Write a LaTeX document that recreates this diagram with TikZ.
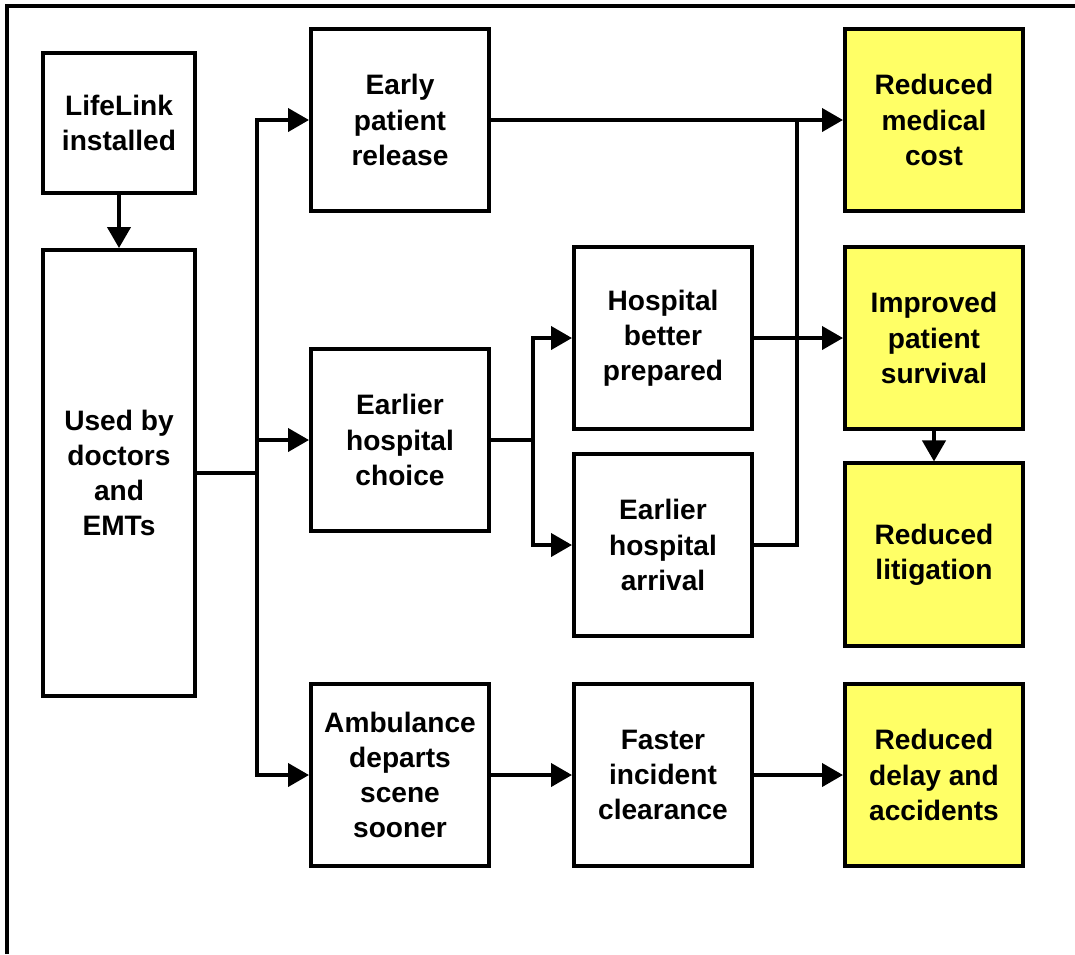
\documentclass[tikz,border=0pt]{standalone}
\usepackage{fontspec}
\setmainfont{Liberation Sans}
\usetikzlibrary{arrows.meta,positioning}
\usepackage{xcolor}
\definecolor{outcomeyellow}{HTML}{FFFF66}
\tikzset{
  chainbox/.style={
    rectangle,
    draw=black,
    line width=0.08cm,
    fill=white,
    align=center,
    inner sep=0pt,
    minimum width=3.56cm,
    minimum height=3.66cm,
    font=\fontsize{16}{20}\selectfont\bfseries
  },
  startbox/.style={chainbox, minimum width=3.04cm, minimum height=2.8cm},
  usebox/.style={startbox, minimum height=8.92cm},
  outcomebox/.style={chainbox, fill=outcomeyellow},
  chainline/.style={line width=0.08cm, draw=black},
  chainarrow/.style={chainline, -{Triangle[length=0.42cm,width=0.46cm]}}
}
\begin{document}
\begin{tikzpicture}[x=0.02cm, y=-0.02cm]
\useasboundingbox (0,0) rectangle (1075,954);
\draw[chainline] (7,954) -- (7,6) -- (1075,6);
\node[startbox] (life) at (119,123) {LifeLink\\installed};
\node[usebox] (used) at (119,473) {Used by\\doctors\\and\\EMTs};
\node[chainbox] (early) at (400,120) {Early\\patient\\release};
\node[chainbox] (choice) at (400,440) {Earlier\\hospital\\choice};
\node[chainbox] (amb) at (400,775) {Ambulance\\departs\\scene\\sooner};
\node[chainbox] (prep) at (663,338) {Hospital\\better\\prepared};
\node[chainbox] (arrival) at (663,545) {Earlier\\hospital\\arrival};
\node[chainbox] (clear) at (663,775) {Faster\\incident\\clearance};
\node[outcomebox] (cost) at (934,120) {Reduced\\medical\\cost};
\node[outcomebox] (surv) at (934,338) {Improved\\patient\\survival};
\node[outcomebox, below=0.6cm of surv] (litig) {Reduced\\litigation};
\node[outcomebox] (delay) at (934,775) {Reduced\\delay and\\accidents};
\coordinate (fork) at (257,473);
\coordinate (split) at (533,440);
\coordinate (join) at (797,120);
\draw[chainarrow] (life) -- (used);
\draw[chainline] (used) -- (fork);
\draw[chainarrow] (fork) |- (early);
\draw[chainarrow] (fork) |- (choice);
\draw[chainarrow] (fork) |- (amb);
\draw[chainline] (choice) -- (split);
\draw[chainarrow] (split) |- (prep);
\draw[chainarrow] (split) |- (arrival);
\draw[chainarrow] (early) -- (cost);
\draw[chainline] (arrival) -| (join);
\draw[chainarrow] (prep) -- (surv);
\draw[chainarrow] (surv) -- (litig);
\draw[chainarrow] (amb) -- (clear);
\draw[chainarrow] (clear) -- (delay);
\end{tikzpicture}
\end{document}
